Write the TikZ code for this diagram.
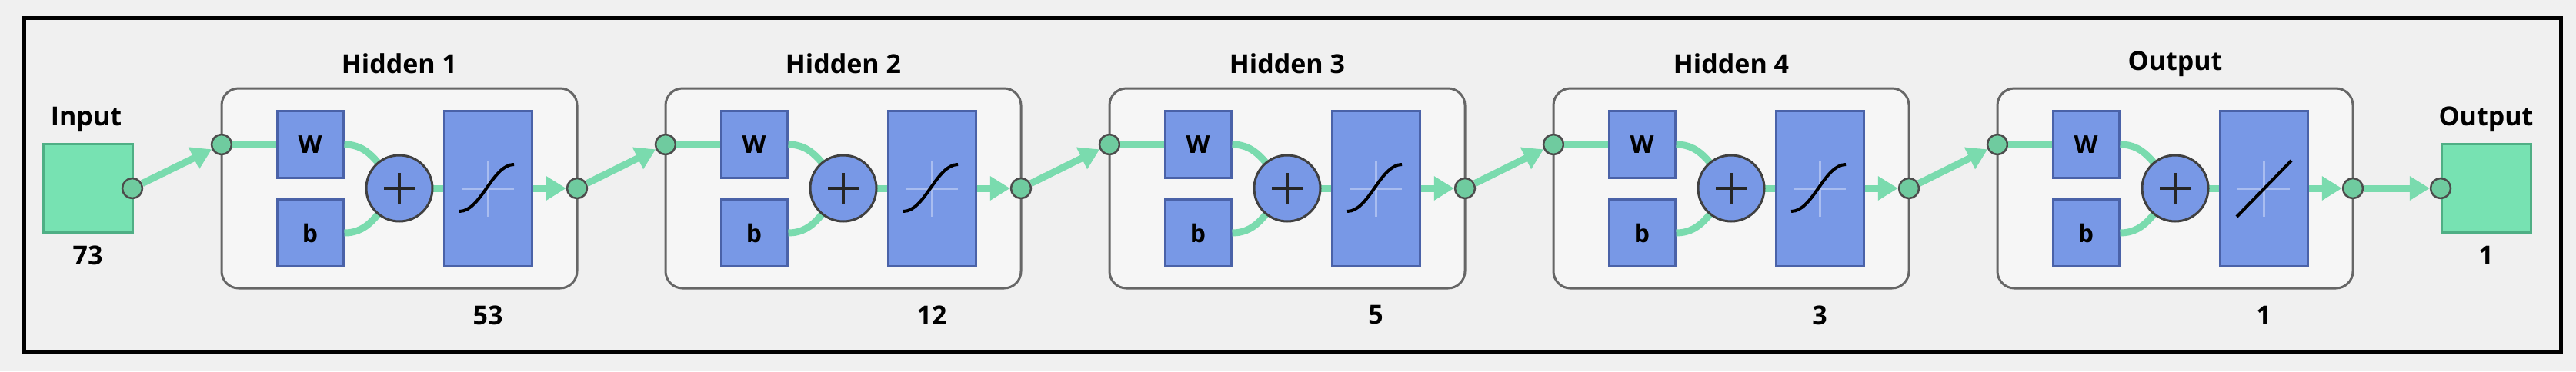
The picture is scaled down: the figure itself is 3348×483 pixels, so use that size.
\documentclass[tikz,border=0pt]{standalone}
\usepackage{fontspec}
\setmainfont{Open Sans}
\usetikzlibrary{arrows.meta}
\definecolor{bg}{HTML}{F0F0F0}
\definecolor{inner}{HTML}{F6F6F6}
\definecolor{grn}{HTML}{77E2B2}
\definecolor{grnd}{HTML}{4FAF85}
\definecolor{lnk}{HTML}{7ADBAE}
\definecolor{blu}{HTML}{7898E6}
\definecolor{blud}{HTML}{4A62A8}
\definecolor{cross}{HTML}{A9BDF0}
\definecolor{portc}{HTML}{6FCB9F}
\begin{document}
\begin{tikzpicture}[x=1pt,y=-1pt,
  ttl/.style={font=\bfseries\fontsize{34}{36}\selectfont, text=black},
  num/.style={font=\bfseries\fontsize{34}{36}\selectfont, text=black},
  blk/.style={draw=black!60, line width=3pt, fill=inner, rounded corners=22pt, inner sep=0pt},
  bx/.style={draw=blud, line width=3pt, fill=blu, inner sep=0pt, font=\bfseries\fontsize{32}{34}\selectfont},
  gsq/.style={draw=grnd, line width=3pt, fill=grn, minimum width=116pt, minimum height=115pt, inner sep=0pt},
  port/.style={circle, draw=black!70, line width=2.5pt, fill=portc, minimum size=26pt, inner sep=0pt},
  sum/.style={circle, draw=black!75, line width=3pt, fill=blu, minimum size=86pt, inner sep=0pt},
  link/.style={draw=lnk, line width=9pt},
  arr/.style={link, -{Triangle[length=26pt,width=30pt]}}
]
\fill[bg] (0,0) rectangle (3348,483);
\draw[line width=5pt, black] (31,23) rectangle (3328,457);
\node[gsq] (in) at (114,245) {};
\node[ttl] (inl) at (112,155) {Input};
\node[num] (inn) at (114,332) {73};
\node[port] (inp) at (172,245) {};
\node[gsq] (out) at (3231,245) {};
\node[ttl] (outl) at (3231,155) {Output};
\node[num] (outn) at (3231,332) {1};
\node[port] (outp) at (3172,245) {};
\foreach \i/\t/\n in {0/Hidden 1/53,1/Hidden 2/12,2/Hidden 3/5,3/Hidden 4/3,4/Output/1}{
  \begin{scope}[xshift=\i*577pt]
  \node[blk, minimum width=462pt, minimum height=260pt] (k\i) at (519,245) {};
  \node[ttl] (l\i) at (519,83) {\t};
  \node[num] (n\i) at (634,410) {\n};
  \node[bx, minimum width=86pt, minimum height=87pt] (w\i) at (403,188) {W};
  \node[bx, minimum width=86pt, minimum height=87pt] (b\i) at (403,303) {b};
  \node[bx, minimum width=114pt, minimum height=202pt] (t\i) at (634,245) {};
  \node[port] (e\i) at (288,188) {};
  \node[port] (o\i) at (750,245) {};
  \draw[link] (e\i) -- (w\i);
  \draw[link] (w\i.east) to[out=0,in=135] (519,245);
  \draw[link] (b\i.east) to[out=0,in=-135] (519,245);
  \draw[link] (519,245) -- (t\i.west);
  \node[sum] (p\i) at (519,245) {};
  \draw[black!85, line width=4pt] (p\i.center) ++(-20,0) -- ++(40,0) (p\i.center) ++(0,-20) -- ++(0,40);
  \draw[cross, line width=3pt] (600,245) -- (668,245) (634,210) -- (634,282);
  \draw[arr] (t\i.east) -- (o\i.west);
  \end{scope}
}
\foreach \i in {0,1,2,3}{
  \draw[black, line width=4pt] (597+\i*577,275) .. controls (625+\i*577,275) and (640+\i*577,214) .. (668+\i*577,214);
}
\draw[black, line width=4pt] (2907,282) -- (2978,209);
\draw[arr] (inp) -- (e0);
\draw[arr] (o0) -- (e1);
\draw[arr] (o1) -- (e2);
\draw[arr] (o2) -- (e3);
\draw[arr] (o3) -- (e4);
\draw[arr] (o4) -- (outp);
\end{tikzpicture}
\end{document}
